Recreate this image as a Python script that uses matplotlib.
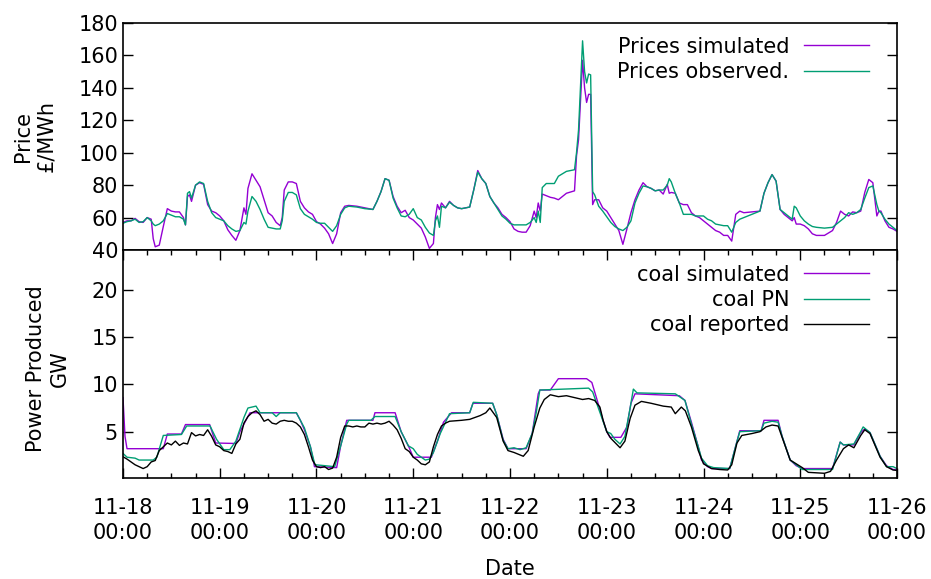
import numpy as np
import matplotlib
matplotlib.use('Agg')
import matplotlib.pyplot as plt
import matplotlib.dates as mdates

# hours after 11-18 00:00 and prices (GBP/MWh)
price_hours = [0, 1, 2, 3, 4, 5, 6, 7, 7.5, 8, 9, 10, 11, 12, 13, 14, 15, 15.5, 16, 16.5,
               17, 18, 19, 20, 21, 22, 23, 24, 25, 26, 27, 28, 29, 30, 30.5, 31, 32, 33, 34, 35,
               36, 37, 38, 39, 39.5, 40, 41, 42, 43, 44, 45, 46, 47, 48, 49, 50, 51, 52, 53, 54,
               55, 56, 58, 60, 62, 63, 64, 65, 66, 67, 68, 69, 70, 71, 72, 73, 74, 75, 76, 77,
               77.5, 78, 78.5, 79, 80, 81, 82, 83, 84, 86, 87, 88, 89, 90, 91, 92, 93, 94, 95, 96,
               97, 98, 99, 100, 101, 102, 102.5, 103, 103.5, 104, 105, 106, 107, 108, 110, 112, 112.5, 113, 114, 114.5,
               115, 115.5, 116, 116.5, 117, 118, 119, 120, 121, 122, 123, 124, 125, 126, 127, 128, 129, 130, 131, 132,
               133, 134, 135, 135.5, 136, 137, 138, 139, 140, 141, 142, 143, 144, 145, 146, 147, 148, 149, 150, 151,
               152, 153, 154, 156, 158, 159, 160, 161, 162, 163, 164, 165, 166, 166.5, 167, 168, 169, 170, 171, 172,
               174, 176, 177, 178, 179, 180, 181, 182, 183, 184, 185, 186, 187, 187.5, 188, 189, 190, 191, 192]
price_sim = [57, 58, 58, 59.5, 57.5, 57, 60, 59, 47, 42, 43, 54.5, 65.5, 64, 63.5, 63.5, 60, 55.5, 73, 74,
             70, 80, 81.5, 80.5, 68, 64, 63, 61, 58, 52.5, 49, 46, 52, 66, 62, 78, 87, 83, 79, 71,
             63, 61, 57, 55, 60, 77, 82, 82, 81, 70, 66, 63.5, 62, 57.5, 56, 53.5, 50, 44, 50, 63,
             67, 67.5, 67, 66, 65, 70, 76, 84, 83, 73, 67, 63, 64.5, 60, 58.5, 56, 53.5, 48, 41, 44,
             60, 68, 65, 69, 66, 70, 67.5, 66, 65.5, 66.5, 77, 89, 84, 81, 73, 69, 66, 62, 60, 57.5,
             53, 51.5, 51, 51, 55, 64, 60, 69, 64, 74.5, 73.5, 72.5, 72, 71, 75, 76.5, 98, 108, 157, 140,
             131, 136, 136, 68, 71, 71, 66, 64, 60, 56, 52, 43.5, 53, 63, 71, 77, 81.5, 79, 78, 76.5,
             77, 74.5, 80.5, 75, 75.5, 75, 69, 68, 68, 63, 61, 60, 58, 56, 54, 52, 51, 49, 49, 45.5,
             62, 64, 63, 63.5, 64, 75, 81.5, 86.5, 82.5, 65, 62, 60, 58, 60, 56, 56, 55, 53, 50, 49,
             49, 52, 57, 64, 62, 61, 63.5, 63, 64, 75.5, 83.5, 81.5, 61, 64, 64, 58, 54, 53, 51.5]
price_obs = [56.5, 57.5, 58, 59, 57, 57.5, 60, 58, 56, 55, 56, 58, 62.5, 61.5, 60.5, 60.5, 59, 55.5, 75, 76,
             72, 80, 82, 81, 70, 63, 60, 59, 58, 55, 53, 51.5, 52, 57, 56, 64, 73, 70, 65, 59,
             54, 53.5, 53, 53, 58, 70, 75.5, 75.5, 74, 65.5, 62, 60.5, 59, 57, 56.5, 56.5, 54, 51.5, 55, 62,
             66, 67, 66.5, 65.5, 65, 70, 76, 84, 83, 72, 66, 61, 60.5, 62, 65.5, 60, 58.5, 54, 50.5, 49,
             58, 61, 54, 67, 66, 69.5, 67.5, 66, 65.5, 66.5, 77, 88, 84, 81, 73, 69, 65, 61, 59, 56.5,
             55.5, 55.5, 55.5, 55.5, 57, 60, 57, 64, 57, 78.5, 81, 81, 81, 85.5, 88.5, 89.5, 100, 114, 169, 150,
             143, 148.5, 148, 76, 74, 67, 64, 60.5, 57, 54.5, 53, 52, 54, 58, 69, 75, 79.5, 79, 78, 76.5,
             77, 77, 80, 84, 82, 75, 69, 62, 62, 62, 61, 61, 61, 59, 58, 56, 55.5, 55, 55, 51,
             57, 59, 60, 62, 64, 75, 81.5, 86.5, 82.5, 65, 63, 61, 59, 67, 66, 61, 58, 56, 54.5, 54,
             53.5, 54, 56, 58, 60, 63, 62, 63, 65, 72, 78.5, 79.5, 68, 64, 63, 59, 56, 54, 52]

# coal generation (GW)
sim_hours = [0, 0.5, 1, 10, 11, 14.5, 15.5, 21.5, 23, 28, 29, 31.5, 43, 44, 45, 46.5, 47.5, 53, 54, 55.5,
             62, 62.5, 67.5, 69, 71, 72, 76.5, 78, 79.5, 81.5, 86, 86.8, 91.7, 92.7, 94.3, 95.5, 100, 101.5, 103, 103.4,
             106, 108, 115, 116.3, 117.5, 119, 120, 120.8, 123.5, 125, 126, 127, 138, 139.4, 141, 142.7, 143.5, 145, 146, 150.5,
             152, 153, 158.3, 159, 162.5, 163.5, 165.5, 167, 168.5, 176, 177.9, 178.7, 181.3, 183, 184, 185.3, 187.8, 189.4, 191, 192]
coal_sim = [8.6, 4.5, 3.2, 3.2, 4.75, 4.75, 5.75, 5.75, 3.8, 3.75, 5.0, 7.0, 7.0, 6.2, 5.2, 3.4, 1.3, 1.2, 3.5, 6.2,
            6.2, 7.0, 7.0, 5.0, 3.3, 2.3, 2.3, 4.0, 6.0, 7.0, 7.0, 8.0, 8.0, 6.8, 4.2, 3.2, 3.2, 4.8, 9.0, 9.4,
            9.4, 10.6, 10.6, 10.2, 8.5, 6.3, 5.0, 4.4, 4.4, 5.5, 8.0, 9.0, 8.8, 8.3, 6.0, 3.4, 2.0, 1.3, 1.1, 1.1,
            3.5, 5.1, 5.1, 6.2, 6.2, 4.5, 2.0, 1.4, 1.1, 1.1, 3.9, 3.6, 3.6, 4.9, 5.3, 4.9, 2.4, 1.4, 1.0, 1.0]

pn_hours = [0, 1, 3, 4, 7.5, 8.4, 10, 14.5, 15.8, 21.6, 23.2, 25, 26.5, 28, 30, 31, 33, 34, 37, 38,
            39, 43, 44, 45, 46.5, 47.6, 49, 52.5, 54, 55.5, 56, 61.5, 62.5, 67.5, 69, 70.8, 72, 73, 75, 76,
            77, 78.7, 81, 86, 86.9, 91.7, 92.7, 94.3, 95.5, 97, 98.5, 100, 101.5, 102.5, 103.4, 115.5, 116.5, 117.5, 119, 120,
            121, 122, 123.3, 124.5, 125.8, 126.6, 127.5, 137, 139.4, 141, 142.7, 143.5, 145, 146.5, 150.5, 152, 153, 158.3, 159, 161,
            162.5, 163.5, 165.5, 167, 168.5, 176, 177.9, 178.7, 181.3, 183, 183.6, 185.3, 187.8, 189.4, 191, 192]
coal_pn = [2.7, 2.3, 2.2, 2.0, 2.0, 2.3, 4.6, 4.7, 5.6, 5.6, 4.2, 3.1, 3.1, 4.0, 6.5, 7.5, 7.7, 7.0, 7.0, 6.6,
           7.0, 7.0, 6.2, 5.4, 3.4, 1.5, 1.45, 1.3, 3.5, 5.8, 6.2, 6.2, 6.6, 6.6, 5.0, 3.5, 3.2, 2.6, 2.0, 2.1,
           2.8, 4.8, 6.9, 7.0, 8.1, 8.0, 6.8, 4.1, 3.2, 3.3, 3.1, 3.3, 4.8, 7.0, 9.4, 9.6, 9.2, 8.0, 6.2, 5.0,
           4.8, 4.2, 3.7, 4.5, 7.5, 9.5, 9.1, 9.0, 8.3, 5.8, 3.4, 2.2, 1.4, 1.2, 1.1, 3.5, 5.0, 5.1, 5.9, 6.1,
           6.0, 4.5, 2.0, 1.5, 1.0, 1.0, 3.9, 3.6, 3.7, 5.0, 5.5, 4.9, 2.4, 1.3, 1.3, 1.1]

rep_hours = list(range(0, 82)) + [84, 86, 88.6, 90, 91, 92.7, 94.3, 95.5, 97, 99.3,
             100.5, 102, 103.4, 104.5, 106, 108, 110, 112, 114, 115.5, 117, 118.3, 119.1, 120, 121, 123.3, 124.5, 125.8, 127, 128.6,
             131, 134, 136, 137, 138.5, 139.5, 141, 142.7, 144, 146, 148, 150, 151, 152.3, 153.5, 156, 158, 159.5, 161, 162.5,
             164, 165.5, 167, 168.5, 170, 174, 175.5, 177, 178.7, 180, 181.3, 183, 184, 185.3, 187.8, 189.4, 191, 192]
coal_rep = [2.35, 2.1, 1.8, 1.5, 1.3, 1.1, 1.3, 1.8, 1.95, 3.0, 3.4, 3.8, 3.6, 4.0, 3.55, 3.8, 3.7, 4.9, 4.55, 4.7,
            4.6, 5.2, 4.5, 3.6, 3.4, 3.0, 2.9, 2.7, 3.7, 4.2, 5.9, 6.6, 7.0, 7.2, 6.8, 6.1, 6.3, 5.9, 5.8, 6.1,
            6.2, 6.1, 6.1, 5.9, 5.5, 4.7, 3.4, 2.0, 1.3, 1.2, 1.3, 1.0, 1.15, 2.3, 4.4, 5.6, 5.6, 5.5, 5.6, 5.5,
            5.5, 5.9, 5.8, 5.9, 5.8, 5.9, 6.1, 5.7, 5.2, 4.3, 3.2, 2.9, 2.3, 2.0, 1.6, 1.5, 1.8, 3.4, 4.7, 5.6,
            5.9, 6.1, 6.2, 6.3, 6.7, 7.0, 7.5, 6.5, 4.0, 3.0, 2.8, 2.4,
            3.0, 5.5, 7.5, 8.4, 8.9, 8.7, 8.8, 8.6, 8.4, 8.5, 8.3, 7.6, 6.2, 5.0, 4.3, 3.3, 4.0, 6.4, 7.8, 8.2,
            8.0, 7.7, 7.6, 6.9, 7.6, 7.2, 5.5, 3.0, 1.6, 1.1, 1.0, 0.95, 1.5, 3.8, 4.6, 4.8, 5.0, 5.5, 5.7, 5.6,
            3.8, 2.0, 1.6, 1.2, 0.7, 0.6, 0.8, 2.0, 3.2, 3.6, 3.3, 4.6, 5.2, 4.8, 2.3, 1.3, 0.95, 0.9]

start = np.datetime64('2018-11-18T00:00')
def to_time(hours):
    return start + (np.array(hours) * 60).astype(int).astype('timedelta64[m]')

purple = '#9400d3'
green = '#009e73'

plt.rcParams['font.family'] = 'DejaVu Sans'
plt.rcParams['font.size'] = 15

fig = plt.figure(figsize=(9.31, 5.79), dpi=100)
ax1 = fig.add_axes([0.1321, 0.5682, 0.8314, 0.3921])
ax2 = fig.add_axes([0.1321, 0.1744, 0.8314, 0.3938])

ax1.plot(to_time(price_hours), price_sim, color=purple, lw=1.0, label='Prices simulated')
ax1.plot(to_time(price_hours), price_obs, color=green, lw=1.0, label='Prices observed.')

ax2.plot(to_time(sim_hours), coal_sim, color=purple, lw=1.0, label='coal simulated')
ax2.plot(to_time(pn_hours), coal_pn, color=green, lw=1.0, label='coal PN')
ax2.plot(to_time(rep_hours), coal_rep, color='black', lw=1.0, label='coal reported')

x0 = start
x1 = start + np.timedelta64(8, 'D')
for ax in (ax1, ax2):
    ax.set_xlim(x0, x1)
    for s in ax.spines.values():
        s.set_linewidth(1.2)
    ax.xaxis.set_major_locator(mdates.DayLocator())
    ax.xaxis.set_minor_locator(mdates.HourLocator(byhour=[6, 12, 18]))
    ax.tick_params(which='major', direction='in', length=7, width=1.0, left=True, right=True)
    ax.tick_params(which='minor', direction='in', length=3.5, width=1.0)

ax1.set_ylim(40, 180)
ax1.set_yticks(np.arange(40, 181, 20))
ax1.tick_params(axis='x', which='both', bottom=False, top=False, labelbottom=False)
ax1.set_ylabel('Price\n£/MWh', multialignment='center')
ax1.yaxis.label.set_va('center')
ax1.yaxis.set_label_coords(-0.114, 0.5)

ax2.set_ylim(0.1, 24.2)
ax2.set_yticks([5, 10, 15, 20])
ax2.tick_params(axis='x', which='both', bottom=True, top=True, pad=14.5)
ax2.xaxis.set_major_formatter(mdates.DateFormatter('%m-%d\n%H:%M'))
ax2.set_ylabel('Power Produced\nGW', multialignment='center')
ax2.yaxis.label.set_va('center')
ax2.yaxis.set_label_coords(-0.097, 0.48)
ax2.set_xlabel('Date', labelpad=11)

leg_kw = dict(loc='upper right', markerfirst=False, frameon=False, handlelength=3.1,
              handletextpad=0.72, labelspacing=0.25, borderaxespad=0, borderpad=0)
ax1.legend(bbox_to_anchor=(0.9638, 0.940), **leg_kw)
ax2.legend(bbox_to_anchor=(0.9638, 0.936), **leg_kw)

fig.canvas.draw()
for lbl in ax2.get_xticklabels():
    lbl.set_linespacing(1.33)

fig.savefig('out.png', dpi=100)
